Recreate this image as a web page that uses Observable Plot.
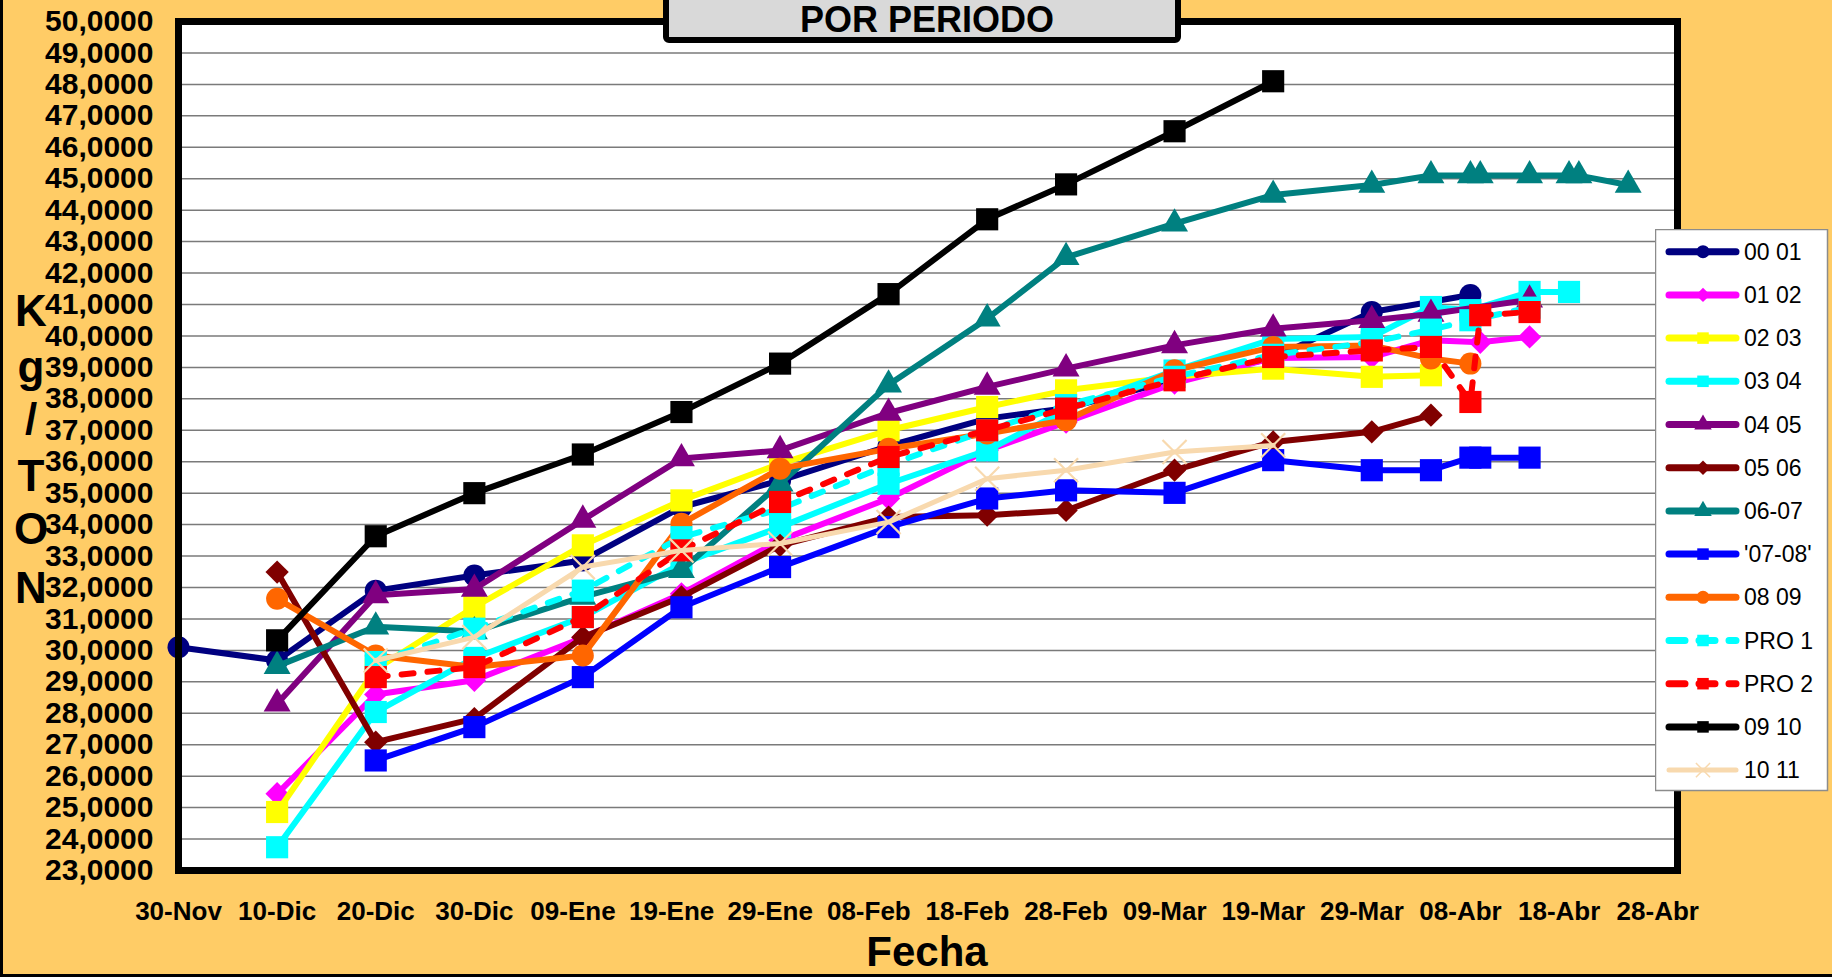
<!DOCTYPE html>
<html><head><meta charset="utf-8">
<script src="https://cdn.jsdelivr.net/npm/d3@7"></script>
<script src="https://cdn.jsdelivr.net/npm/@observablehq/plot@0.6"></script>
<style>
html,body{margin:0;padding:0;background:#FFCC66;}
#wrap{position:relative;width:1832px;height:977px;overflow:hidden;background:#FFCC66;}
#wrap svg{display:block;}
#edge{position:absolute;left:0;top:0;width:1832px;height:977px;box-sizing:border-box;border-left:3px solid #000;border-bottom:3px solid #000;pointer-events:none;}
#legend{position:absolute;left:1655px;top:229px;}
</style></head><body><div id="wrap"></div>
<script>
// ---- data ----
const tickDates  = ["11-30","12-10","12-20","12-30","01-09","01-19","01-29","02-08","02-18","02-28","03-09","03-19","03-29","04-08","04-18","04-28"];
const tickLabels = ["30-Nov","10-Dic","20-Dic","30-Dic","09-Ene","19-Ene","29-Ene","08-Feb","18-Feb","28-Feb","09-Mar","19-Mar","29-Mar","08-Abr","18-Abr","28-Abr"];
const yTicks = [23,24,25,26,27,28,29,30,31,32,33,34,35,36,37,38,39,40,41,42,43,44,45,46,47,48,49,50];

const seriesNames = ["00 01","01 02","02 03","03 04","04 05","05  06","06-07","'07-08'","08 09","PRO 1","PRO 2","09 10","10 11"];
const seriesColors = ["#000080","#FF00FF","#FFFF00","#00FFFF","#800080","#800000","#008080","#0000FF","#FF6600","#00FFFF","#FF0000","#000000","#F8D9AE"];
const seriesSymbols = ["circle","diamond2","square","square","triangle","diamond2","triangle","square","circle","square","square","square","times"];

const d0001 = ["11-30","12-10","12-20","12-30","01-10","01-20","01-30","02-10","02-20","02-28","03-10","03-20","03-30","04-09"];
const v0001 = [30.1,29.68,31.9,32.38,32.86,34.56,35.4,36.5,37.37,37.7,38.6,39.3,40.76,41.3];

const d0102 = ["12-10","12-20","12-30","01-10","01-20","01-30","02-10","02-20","02-28","03-10","03-20","03-30","04-05","04-10","04-15"];
const v0102 = [25.44,28.6,29.05,30.4,31.8,33.5,34.83,36.36,37.26,38.5,39.3,39.33,39.86,39.8,39.97];

const d0203 = ["12-10","12-20","12-30","01-10","01-20","01-30","02-10","02-20","02-28","03-10","03-20","03-30","04-05"];
const v0203 = [24.86,29.4,31.38,33.34,34.77,35.94,37.0,37.74,38.27,38.7,38.96,38.7,38.75];

const d0304 = ["12-10","12-20","12-30","01-10","01-20","01-30","02-10","02-20","02-28","03-10","03-20","03-30","04-05","04-09","04-15","04-19"];
const v0304 = [23.74,28.04,29.76,31.06,32.76,33.92,35.3,36.36,37.64,38.9,39.9,39.97,40.92,40.82,41.4,41.4];

const d0405 = ["12-10","12-20","12-30","01-10","01-20","01-30","02-10","02-20","02-28","03-10","03-20","03-30","04-05","04-15"];
const v0405 = [28.3,31.75,31.95,34.15,36.1,36.36,37.55,38.38,38.96,39.7,40.23,40.5,40.7,41.15];

const d0506 = ["12-10","12-20","12-30","01-10","01-20","01-30","02-10","02-20","02-28","03-10","03-20","03-30","04-05"];
const v0506 = [32.49,27.08,27.83,30.42,31.7,33.34,34.24,34.3,34.45,35.73,36.63,36.95,37.48];

const d0607 = ["12-10","12-20","12-30","01-10","01-20","01-30","02-10","02-20","02-28","03-10","03-20","03-30","04-05","04-09","04-10","04-15","04-19","04-20","04-25"];
const v0607 = [29.5,30.75,30.6,31.7,32.55,35.3,38.45,40.55,42.5,43.57,44.48,44.8,45.1,45.1,45.1,45.1,45.1,45.1,44.8];

const d0708 = ["12-20","12-30","01-10","01-20","01-30","02-10","02-20","02-28","03-10","03-20","03-30","04-05","04-09","04-10","04-15"];
const v0708 = [26.5,27.56,29.15,31.37,32.65,33.92,34.83,35.09,35.01,36.05,35.73,35.73,36.13,36.13,36.13];

const d0809 = ["12-10","12-20","12-30","01-10","01-20","01-30","02-10","02-20","02-28","03-10","03-20","03-30","04-05","04-09"];
const v0809 = [31.64,29.84,29.47,29.84,34.03,35.78,36.41,36.9,37.32,38.91,39.65,39.7,39.28,39.12];

const dPro1 = ["12-20","12-30","01-10","01-20","01-30","02-10","02-20","02-28","03-10","03-20","03-30","04-05","04-09","04-15"];
const vPro1 = [29.63,30.69,31.9,33.6,34.5,35.9,37.0,37.8,38.7,39.4,39.8,40.2,40.5,40.9];

const dPro2 = ["12-20","12-30","01-10","01-20","01-30","02-10","02-20","02-28","03-10","03-20","03-30","04-05","04-09","04-10","04-15"];
const vPro2 = [29.15,29.47,31.06,33.18,34.72,36.15,37.0,37.69,38.59,39.33,39.54,39.65,37.9,40.66,40.76];

const d0910 = ["12-10","12-20","12-30","01-10","01-20","01-30","02-10","02-20","02-28","03-10","03-20"];
const v0910 = [30.32,33.63,35.0,36.23,37.58,39.12,41.33,43.71,44.82,46.51,48.1];

const d1011 = ["12-20","12-30","01-10","01-20","01-30","02-10","02-20","02-28","03-10","03-20"];
const v1011 = [29.68,30.42,32.65,33.18,33.4,34.08,35.46,35.73,36.31,36.52];

const seriesDates = [d0001,d0102,d0203,d0304,d0405,d0506,d0607,d0708,d0809,dPro1,dPro2,d0910,d1011];
const seriesValues = [v0001,v0102,v0203,v0304,v0405,v0506,v0607,v0708,v0809,vPro1,vPro2,v0910,v1011];

// ---- build ----
const toDate = s => { const [m,d] = s.split("-").map(Number); return new Date(Date.UTC(m >= 11 ? 2007 : 2008, m - 1, d)); };
const tickD = tickDates.map(toDate);
const labelMap = new Map(tickD.map((d,i) => [+d, tickLabels[i]]));
const dashOf = i => (seriesNames[i].startsWith("PRO") ? "12,14" : null);
const rOf = sym => ({circle: 11, diamond2: 10.5, square: 12.5, triangle: 10, times: 11})[sym];

const marks = [
  Plot.frame({fill: "white"}),
  Plot.gridY(yTicks.slice(1, -1), {stroke: "#7a7a7a", strokeOpacity: 1, strokeWidth: 1.5})
];
seriesNames.forEach((name, i) => {
  const data = seriesDates[i].map((d, k) => ({date: toDate(d), v: seriesValues[i][k]}));
  const color = seriesColors[i];
  marks.push(Plot.line(data, {x: "date", y: "v", stroke: color,
    strokeWidth: name === "10 11" ? 5 : 6, strokeDasharray: dashOf(i),
    strokeLinecap: "round", strokeLinejoin: "round"}));
  const sym = seriesSymbols[i];
  if (sym === "times") {
    marks.push(Plot.dot(data, {x: "date", y: "v", symbol: "times", r: rOf(sym), stroke: color, strokeWidth: 2.2, fill: "none"}));
  } else {
    marks.push(Plot.dot(data, {x: "date", y: "v", symbol: sym, r: rOf(sym), fill: color, stroke: "none"}));
  }
});
marks.push(Plot.frame({stroke: "#000", strokeWidth: 7}));
marks.push(Plot.axisX({ticks: tickD, tickFormat: d => labelMap.get(+d), tickSize: 0, tickPadding: 31,
  fontSize: 26, fontWeight: "bold", fill: "#000", label: null}));
marks.push(Plot.axisY({ticks: yTicks, tickFormat: d => d.toFixed(4).replace(".", ","), tickSize: 0, tickPadding: 25,
  fontSize: 30, fontWeight: "bold", fill: "#000", label: null}));

const chart = Plot.plot({
  width: 1832, height: 977,
  marginLeft: 178, marginRight: 155, marginTop: 21, marginBottom: 107,
  style: {background: "transparent", fontFamily: "'Liberation Sans', Arial, sans-serif", color: "#000"},
  x: {type: "utc", domain: [toDate("11-30"), toDate("04-30")]},
  y: {domain: [23, 50]},
  marks
});
const wrap = document.getElementById("wrap");
wrap.appendChild(chart);

// overlays drawn into the SVG
const svg = d3.select(chart);
const ff = "'Liberation Sans', Arial, sans-serif";
// title box
svg.append("rect").attr("x", 666).attr("y", -30).attr("width", 512).attr("height", 70)
  .attr("rx", 3).attr("fill", "#d9d9d9").attr("stroke", "#000").attr("stroke-width", 6);
svg.append("text").attr("x", 927).attr("y", 32).attr("text-anchor", "middle")
  .attr("font-family", ff).attr("font-weight", "bold").attr("font-size", 36).attr("fill", "#000").text("POR PERIODO");
// y title letters
const yLetters = ["K","g","/","T","O","N"];
const yBase = [326, 382, 434, 491, 544, 603];
yLetters.forEach((t, i) => svg.append("text").attr("x", 31).attr("y", yBase[i]).attr("text-anchor", "middle")
  .attr("font-family", ff).attr("font-weight", "bold").attr("font-size", 44).attr("fill", "#000").text(t));
// x title
svg.append("text").attr("x", 927).attr("y", 966).attr("text-anchor", "middle")
  .attr("font-family", ff).attr("font-weight", "bold").attr("font-size", 42).attr("fill", "#000").text("Fecha");

// legend
const lg = d3.select(wrap).append("svg").attr("id", "legend").attr("width", 175).attr("height", 563);
lg.append("rect").attr("x", 0.5).attr("y", 0.5).attr("width", 172).attr("height", 561).attr("fill", "#fff").attr("stroke", "#8c8c8c").attr("stroke-width", 1.5);
const symMap = {circle: d3.symbolCircle, diamond2: d3.symbolDiamond2, square: d3.symbolSquare, triangle: d3.symbolTriangle, times: d3.symbolTimes};
seriesNames.forEach((name, i) => {
  const cy = 22.7 + 43.2 * i;
  const g = lg.append("g");
  g.append("line").attr("x1", 14).attr("x2", 81).attr("y1", cy).attr("y2", cy)
    .attr("stroke", seriesColors[i]).attr("stroke-width", name === "10 11" ? 5 : 7).attr("stroke-linecap", "round")
    .attr("stroke-dasharray", dashOf(i) ? "16,14" : null);
  const sym = seriesSymbols[i];
  const r = 6.5;
  const p = d3.symbol(symMap[sym], Math.PI * r * r)();
  g.append("path").attr("d", p).attr("transform", `translate(48,${cy})`)
    .attr("fill", sym === "times" ? "none" : seriesColors[i]).attr("stroke", sym === "times" ? seriesColors[i] : "none").attr("stroke-width", 1.5);
  g.append("text").attr("x", 89).attr("y", cy).attr("dy", "0.35em").attr("font-family", ff).attr("font-size", 23).attr("fill", "#000").text(name);
});
d3.select(wrap).append("div").attr("id", "edge");
</script>
</body></html>
